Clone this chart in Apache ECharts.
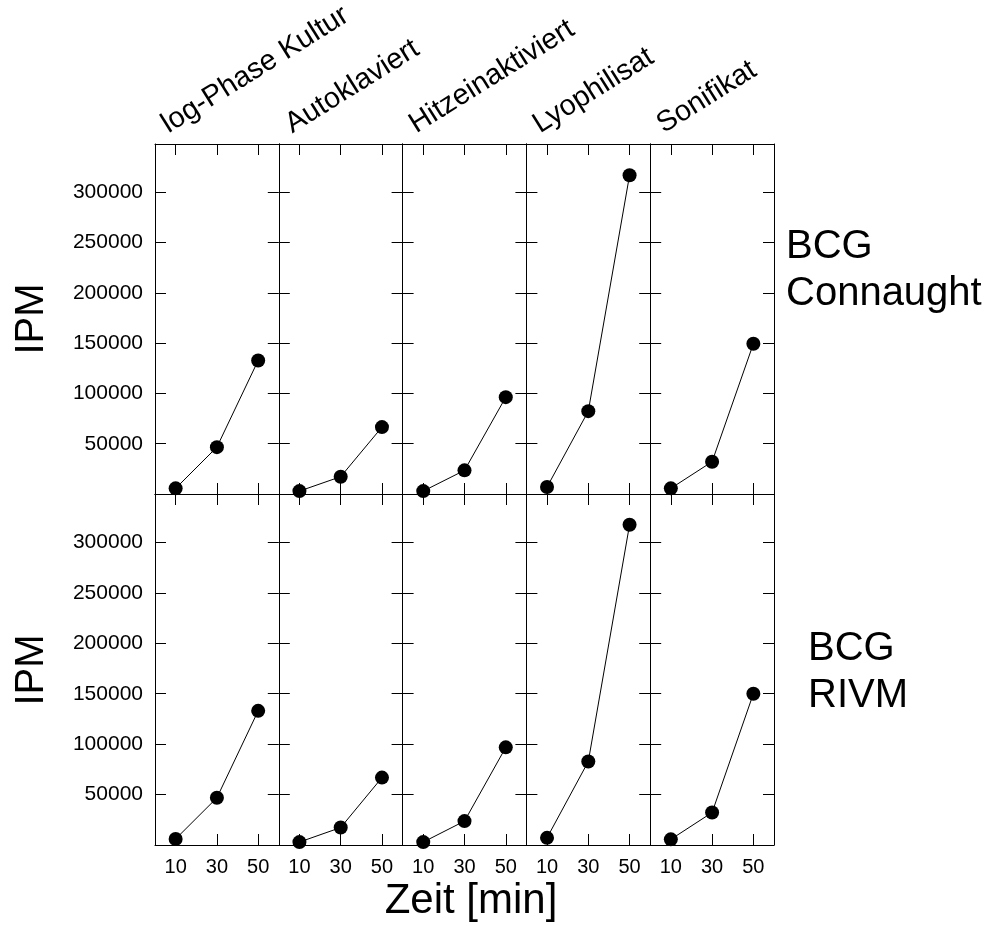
<!DOCTYPE html>
<html>
<head>
<meta charset="utf-8">
<script src="https://cdn.jsdelivr.net/npm/echarts@6/dist/echarts.min.js"></script>
<style>
html,body{margin:0;padding:0;background:#fff;}
#chart{width:1001px;height:926px;}
</style>
</head>
<body>
<div id="chart"></div>
<script>
// ---- data ----
const panelTitles = ['log-Phase Kultur', 'Autoklaviert', 'Hitzeinaktiviert', 'Lyophilisat', 'Sonifikat'];
const rowLabels = ['BCG\nConnaught', 'BCG\nRIVM'];
const times = [10, 30, 50];
const xTickValues = [10, 30, 50];
const yTickValues = [50000, 100000, 150000, 200000, 250000, 300000];
// IPM values per panel (rows: BCG Connaught, BCG RIVM)
const connaughtLog   = [5600, 46600, 132800];
const connaughtAuto  = [2900, 17200, 66500];
const connaughtHitze = [2900, 23500, 96300];
const connaughtLyo   = [6900, 82400, 317000];
const connaughtSoni  = [5600, 32100, 149400];
const rivmLog   = [6000, 46800, 133000];
const rivmAuto  = [2900, 17300, 66800];
const rivmHitze = [2900, 23700, 96800];
const rivmLyo   = [7100, 82800, 317500];
const rivmSoni  = [5600, 32200, 150000];
const rows = [
  [connaughtLog, connaughtAuto, connaughtHitze, connaughtLyo, connaughtSoni],
  [rivmLog, rivmAuto, rivmHitze, rivmLyo, rivmSoni]
];

// ---- layout ----
const FONT = "'Liberation Sans', Arial, Helvetica, sans-serif";
const left0 = 155, right0 = 774, colW = (right0 - left0) / 5;
const rowTops = [144, 494], rowH = [350, 351];

const grids = [], xAxes = [], yAxes = [], series = [];
const lineCol = '#000';
let k = 0;
for (let r = 0; r < 2; r++) {
  for (let c = 0; c < 5; c++) {
    grids.push({left: left0 + c * colW, top: rowTops[r], width: colW, height: rowH[r], show: false});
    const isBottom = r === 1, isLeft = c === 0;
    const axLine = {show: true, onZero: false, lineStyle: {color: lineCol, width: 1}};
    const tick = {show: true, inside: true, length: 11, lineStyle: {color: lineCol, width: 1}};
    // bottom x axis
    xAxes.push({
      type: 'value', gridIndex: k, position: 'bottom', min: 0, max: 60,
      axisLine: axLine, splitLine: {show: false},
      axisTick: Object.assign({customValues: xTickValues}, tick),
      axisLabel: {show: isBottom, customValues: xTickValues, margin: 12, fontSize: 20, color: '#000', fontFamily: FONT}
    });
    // top x axis (ticks only)
    xAxes.push({
      type: 'value', gridIndex: k, position: 'top', min: 0, max: 60,
      axisLine: axLine, splitLine: {show: false},
      axisTick: Object.assign({customValues: xTickValues}, tick),
      axisLabel: {show: false}
    });
    // left y axis
    yAxes.push({
      type: 'value', gridIndex: k, position: 'left', min: 0, max: 348000,
      axisLine: axLine, splitLine: {show: false},
      axisTick: Object.assign({customValues: yTickValues}, tick),
      axisLabel: {show: isLeft, customValues: yTickValues, margin: 12, fontSize: 21, color: '#000', fontFamily: FONT,
                  formatter: v => String(v)}
    });
    // right y axis (ticks only)
    yAxes.push({
      type: 'value', gridIndex: k, position: 'right', min: 0, max: 348000,
      axisLine: axLine, splitLine: {show: false},
      axisTick: Object.assign({customValues: yTickValues}, tick),
      axisLabel: {show: false}
    });
    series.push({
      type: 'line', xAxisIndex: 2 * k, yAxisIndex: 2 * k,
      data: times.map((t, i) => [t, rows[r][c][i]]),
      symbol: 'circle', symbolSize: 14,
      itemStyle: {color: '#000'},
      lineStyle: {color: '#000', width: 1},
      animation: false, silent: true
    });
    k++;
  }
}

const graphics = [];
panelTitles.forEach((t, c) => {
  graphics.push({
    type: 'text', x: left0 + c * colW + 17, y: 139, rotation: 32 * Math.PI / 180,
    style: {text: t, font: '29px ' + FONT, fill: '#000', textAlign: 'left', textVerticalAlign: 'bottom'}
  });
});
[319, 670].forEach(cy => {
  graphics.push({
    type: 'text', x: 32, y: cy, rotation: Math.PI / 2,
    style: {text: 'IPM', font: '40px ' + FONT, fill: '#000', textAlign: 'center', textVerticalAlign: 'middle'}
  });
});
graphics.push({
  type: 'text', x: 786, y: 270,
  style: {text: rowLabels[0], font: '40px ' + FONT, fill: '#000', textAlign: 'left', textVerticalAlign: 'middle', lineHeight: 47}
});
graphics.push({
  type: 'text', x: 808, y: 672,
  style: {text: rowLabels[1], font: '40px ' + FONT, fill: '#000', textAlign: 'left', textVerticalAlign: 'middle', lineHeight: 47}
});
graphics.push({
  type: 'text', x: 471, y: 901,
  style: {text: 'Zeit [min]', font: '42px ' + FONT, fill: '#000', textAlign: 'center', textVerticalAlign: 'middle'}
});

const chart = echarts.init(document.getElementById('chart'), null, {renderer: 'canvas'});
chart.setOption({
  animation: false,
  backgroundColor: '#fff',
  grid: grids,
  xAxis: xAxes,
  yAxis: yAxes,
  series: series,
  graphic: graphics
});
</script>
</body>
</html>
